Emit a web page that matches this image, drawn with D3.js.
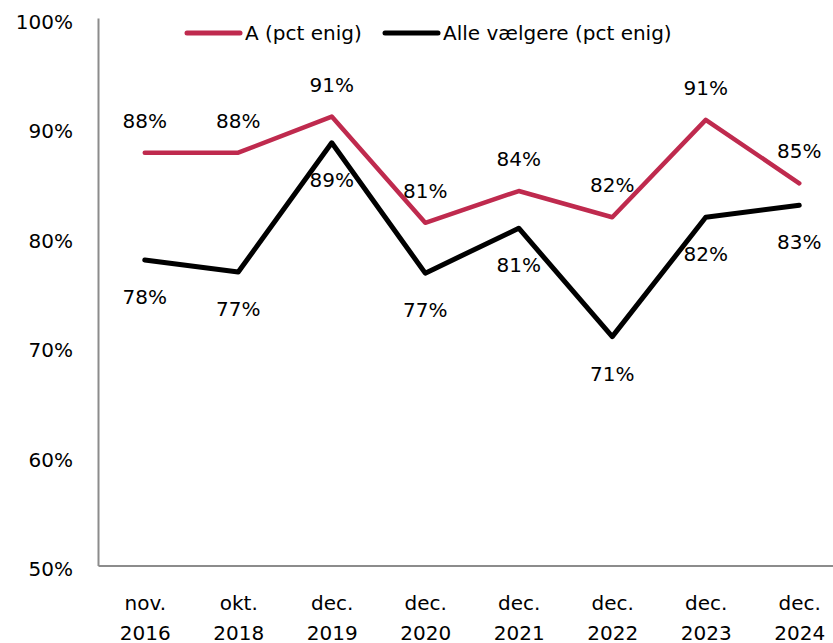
<!DOCTYPE html>
<html>
<head>
<meta charset="utf-8">
<script src="https://cdn.jsdelivr.net/npm/d3@7"></script>
<style>
  body { margin: 0; background: #fff; }
  svg text { font-family: "DejaVu Sans", sans-serif; fill: #000; }
</style>
</head>
<body>
<div id="canvas"></div>
<script>
"use strict";

/* Data */
let periods = [["nov.", "2016"], ["okt.", "2018"], ["dec.", "2019"], ["dec.", "2020"],
               ["dec.", "2021"], ["dec.", "2022"], ["dec.", "2023"], ["dec.", "2024"]];
let seriesA = [87.7, 87.7, 91.0, 81.3, 84.2, 81.8, 90.7, 84.9];
let seriesAll = [77.9, 76.8, 88.6, 76.7, 80.8, 70.9, 81.8, 82.9];
let labelsA = [88, 88, 91, 81, 84, 82, 91, 85];
let labelsAll = [78, 77, 89, 77, 81, 71, 82, 83];
let yTicks = [50, 60, 70, 80, 90, 100];
let legendNames = ["A (pct enig)", "Alle vælgere (pct enig)"];

/* SVG setup */
let svgWidth = 833;
let svgHeight = 643;
let red = "#bf2a4e";

let svg = d3.select("#canvas")
  .append("svg")
  .attr("width", svgWidth)
  .attr("height", svgHeight);

/* Scales */
let keys = periods.map(function (p) { return p.join(" "); });
let xScale = d3.scalePoint().domain(keys).range([98, 846]).padding(0.5);
let yScale = d3.scaleLinear().domain([50, 100]).range([565.5, 18]);

/* Y axis */
let yAxis = svg.append("g")
  .attr("transform", "translate(98,0)")
  .call(d3.axisLeft(yScale).tickValues(yTicks).tickSize(0).tickPadding(25)
    .tickFormat(function (d) { return d + "%"; }));
yAxis.select(".domain").attr("stroke", "#8c8c8c").attr("stroke-width", 2);
yAxis.selectAll("text")
  .style("font-size", "20px")
  .attr("dy", "0.52em")
  .style("font-family", "DejaVu Sans, sans-serif");

/* X axis */
let xAxis = svg.append("g")
  .attr("transform", "translate(0,565.5)")
  .call(d3.axisBottom(xScale).tickSize(0).tickFormat(""));
xAxis.select(".domain").attr("stroke", "#8c8c8c").attr("stroke-width", 2);
xAxis.selectAll(".tick").each(function (d, i) {
  let t = d3.select(this).append("text")
    .attr("text-anchor", "middle")
    .style("font-size", "20px");
  t.append("tspan").attr("x", 0).attr("y", 44).text(periods[i][0]);
  t.append("tspan").attr("x", 0).attr("y", 74).text(periods[i][1]);
});

/* Lines */
let line = d3.line()
  .x(function (d, i) { return xScale(keys[i]); })
  .y(function (d) { return yScale(d); });

svg.append("path")
  .datum(seriesA)
  .attr("d", line)
  .attr("fill", "none")
  .attr("stroke", red)
  .attr("stroke-width", 4.5)
  .attr("stroke-linecap", "round")
  .attr("stroke-linejoin", "round");

svg.append("path")
  .datum(seriesAll)
  .attr("d", line)
  .attr("fill", "none")
  .attr("stroke", "#000")
  .attr("stroke-width", 5)
  .attr("stroke-linecap", "round")
  .attr("stroke-linejoin", "round");

/* Data labels */
for (let i = 0; i < keys.length; i++) {
  svg.append("text")
    .attr("x", xScale(keys[i]))
    .attr("y", yScale(seriesA[i]) - 32 + 7)
    .attr("text-anchor", "middle")
    .style("font-size", "20px")
    .text(labelsA[i] + "%");

  svg.append("text")
    .attr("x", xScale(keys[i]))
    .attr("y", yScale(seriesAll[i]) + 37 + 7)
    .attr("text-anchor", "middle")
    .style("font-size", "20px")
    .text(labelsAll[i] + "%");
}

/* Legend */
let legendColors = [red, "#000"];
let legendX = [187, 385];
for (let i = 0; i < legendNames.length; i++) {
  svg.append("line")
    .attr("x1", legendX[i])
    .attr("x2", legendX[i] + 53)
    .attr("y1", 33)
    .attr("y2", 33)
    .attr("stroke", legendColors[i])
    .attr("stroke-width", 5)
    .attr("stroke-linecap", "round");
  svg.append("text")
    .attr("x", legendX[i] + 58)
    .attr("y", 40)
    .style("font-size", "20px")
    .text(legendNames[i]);
}
</script>
</body>
</html>
